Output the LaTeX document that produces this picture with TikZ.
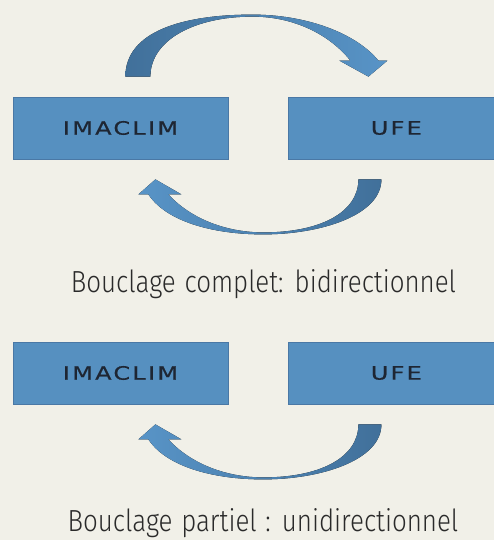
\documentclass[tikz,border=0pt]{standalone}
\usepackage{xcolor}
\usepackage{fontspec}
\usetikzlibrary{positioning}

\newfontfamily\boxfont{DejaVu Sans}[FakeStretch=1.3, LetterSpace=12, FakeBold=0.5]
\newfontfamily\capfont{Fira Sans Light}[FakeStretch=0.85, WordSpace=1.2]

\definecolor{bgcream}{HTML}{F1F0E8}
\definecolor{boxfill}{HTML}{5690C0}
\definecolor{boxline}{HTML}{4A78A5}
\definecolor{boxtext}{HTML}{1E2633}
\definecolor{arrowdark}{HTML}{41709A}
\definecolor{arrowlight}{HTML}{5894C7}
\definecolor{captext}{HTML}{2A2A2A}

\tikzset{
    modelbox/.style={rectangle, draw=boxline, line width=0.8pt, fill=boxfill,
        minimum width=215pt, minimum height=62pt, inner sep=0pt,
        text=boxtext, font=\boxfont\fontsize{18.5}{20}\selectfont},
    caption/.style={anchor=base, text=captext, inner sep=0pt,
        font=\capfont\fontsize{30.5}{34}\selectfont},
    % curved block arrow over the boxes, from IMACLIM to UFE
    loop over/.pic={
        \fill[left color=arrowdark, right color=arrowlight]
            (-103,-20) .. controls (-103,-65) and (-46,-82) .. (24,-82)
            .. controls (77,-82) and (127,-64) .. (150,-36)
            -- (159,-36) -- (140,-20) -- (111,-36) -- (122,-36)
            .. controls (102,-61) and (67,-80) .. (24,-80)
            .. controls (-33,-80) and (-78,-57) .. (-78,-20) -- cycle;
    },
    % curved block arrow under the boxes, from UFE back to IMACLIM
    loop under/.pic={
        \fill[left color=arrowlight, right color=arrowdark]
            (153,20) .. controls (153,56) and (92,75) .. (35,75)
            .. controls (-18,75) and (-63,61) .. (-80,35)
            -- (-90,35) -- (-73,20) -- (-47,35) -- (-60,35)
            .. controls (-38,59) and (-3,73) .. (35,73)
            .. controls (92,73) and (130,53) .. (130,20) -- cycle;
    }
}

\begin{document}
\begin{tikzpicture}[x=1pt, y=-1pt]
        \fill[bgcream] (0,0) rectangle (494,540);
        \useasboundingbox (0,0) rectangle (494,540);

        % complete loop
        \node[modelbox] (imaclimA) at (120.5,128) {IMACLIM};
        \node[modelbox, right=60pt of imaclimA] (ufeA) {UFE};
        \pic at (imaclimA.north east) {loop over};
        \pic at (imaclimA.south east) {loop under};
        \node[caption] (capA) at (263.5,292) {Bouclage complet: bidirectionnel};

        % partial loop
        \node[modelbox] (imaclimB) at (120.5,373) {IMACLIM};
        \node[modelbox, right=60pt of imaclimB] (ufeB) {UFE};
        \pic at (imaclimB.south east) {loop under};
        \node[caption] (capB) at (263,531) {Bouclage partiel : unidirectionnel};
    \end{tikzpicture}
\end{document}
